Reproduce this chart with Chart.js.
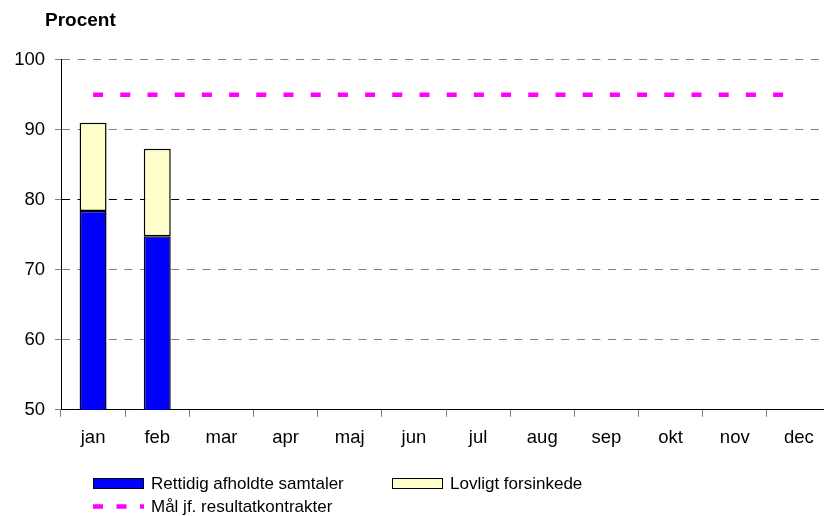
<!DOCTYPE html>
<html>
<head>
<meta charset="utf-8">
<title>Procent</title>
<script src="https://cdn.jsdelivr.net/npm/chart.js@4"></script>
<style>
  html, body { margin: 0; padding: 0; background: #fff; overflow: hidden; }
  #wrap { position: relative; width: 840px; height: 516px; }
  #legend {
    position: absolute; left: 93px; top: 472px;
    display: grid; grid-template-columns: 299px auto; grid-auto-rows: 23px;
    font: 17px "Liberation Sans", Arial, sans-serif; color: #000;
  }
  .item { display: flex; align-items: center; white-space: nowrap; }
  .swatch { width: 49px; height: 9px; border: 1px solid #000; margin-right: 7px; }
  .lineSwatch { margin-right: 7px; }
</style>
</head>
<body>
<div id="wrap">
  <canvas id="chart"></canvas>
  <div id="legend"></div>
</div>
<script>
// data
const months = ['jan', 'feb', 'mar', 'apr', 'maj', 'jun', 'jul', 'aug', 'sep', 'okt', 'nov', 'dec'];
const rettidig = [78.4, 74.8, null, null, null, null, null, null, null, null, null, null];
const lovligt  = [12.6, 12.5, null, null, null, null, null, null, null, null, null, null];
const maal     = [95, 95, 95, 95, 95, 95, 95, 95, 95, 95, 95, 95];

const FONT = '"Liberation Sans", Arial, sans-serif';
Chart.defaults.font.family = FONT;
Chart.defaults.color = '#000';

// title sits further right than the y axis box starts
const titleShift = {
  id: 'titleShift',
  afterLayout(ch){ if(ch.titleBlock){ ch.titleBlock.left = 45; } },
};

const chart = new Chart(document.getElementById('chart').getContext('2d'), {
  data: {
    labels: months,
    datasets: [
      {
        type: 'bar', label: 'Rettidig afholdte samtaler', data: rettidig,
        backgroundColor: '#0000FF', borderColor: '#000', borderWidth: 1.5, borderSkipped: false,
        barPercentage: 0.42, categoryPercentage: 1, order: 1,
      },
      {
        type: 'bar', label: 'Lovligt forsinkede', data: lovligt,
        backgroundColor: '#FFFFCC', borderColor: '#000', borderWidth: 1.5, borderSkipped: false,
        barPercentage: 0.42, categoryPercentage: 1, order: 1,
      },
      {
        type: 'line', label: 'Mål jf. resultatkontrakter', data: maal,
        borderColor: '#FF00FF', backgroundColor: '#FF00FF', borderWidth: 4.5,
        borderDash: [10, 17.2], borderCapStyle: 'butt', pointRadius: 0, fill: false, order: 0,
      },
    ],
  },
  options: {
    responsive: true,
    maintainAspectRatio: false,
    animation: false,
    layout: { padding: { left: 14, right: 9, top: 0, bottom: 57 } },
    plugins: {
      legend: { display: false },
      tooltip: { enabled: false },
      title: {
        display: true, text: 'Procent', align: 'start', color: '#000',
        font: { size: 19, weight: 'bold' },
        padding: { top: 9, bottom: 28 },
      },
    },
    scales: {
      x: {
        stacked: true,
        offset: true,
        grid: { display: true, drawOnChartArea: false, drawTicks: true, tickLength: 7, color: '#808080', offset: true },
        border: { display: true, color: '#000', width: 1 },
        ticks: { color: '#000', font: { size: 18.5 }, padding: 10 },
      },
      y: {
        stacked: true,
        min: 50, max: 100,
        ticks: { stepSize: 10, color: '#000', font: { size: 18.5 }, padding: 10 },
        grid: {
          color: (ctx) => (ctx.tick && ctx.tick.value === 80) ? '#000' : '#808080',
          tickColor: '#808080', tickLength: 6, lineWidth: 1,
        },
        border: { display: true, color: '#000', width: 1, dash: [8, 7.6] },
        afterFit: (s) => { s.width = 47; },
      },
    },
  },
  plugins: [titleShift],
});

// legend below the plot, built from the datasets
function buildLegend(ch){
  const host = document.getElementById('legend');
  host.innerHTML = '';
  ch.data.datasets.forEach(ds => {
    const item = document.createElement('div');
    item.className = 'item';
    if(ds.type === 'line'){
      item.innerHTML = `<svg class="lineSwatch" width="51" height="11"><line x1="0" y1="5.5" x2="51" y2="5.5"
        stroke="${ds.borderColor}" stroke-width="4.5" stroke-dasharray="10 13.5"/></svg><span>${ds.label}</span>`;
    } else {
      item.innerHTML = `<div class="swatch" style="background:${ds.backgroundColor}"></div><span>${ds.label}</span>`;
    }
    host.appendChild(item);
  });
}
buildLegend(chart);
</script>
</body>
</html>
